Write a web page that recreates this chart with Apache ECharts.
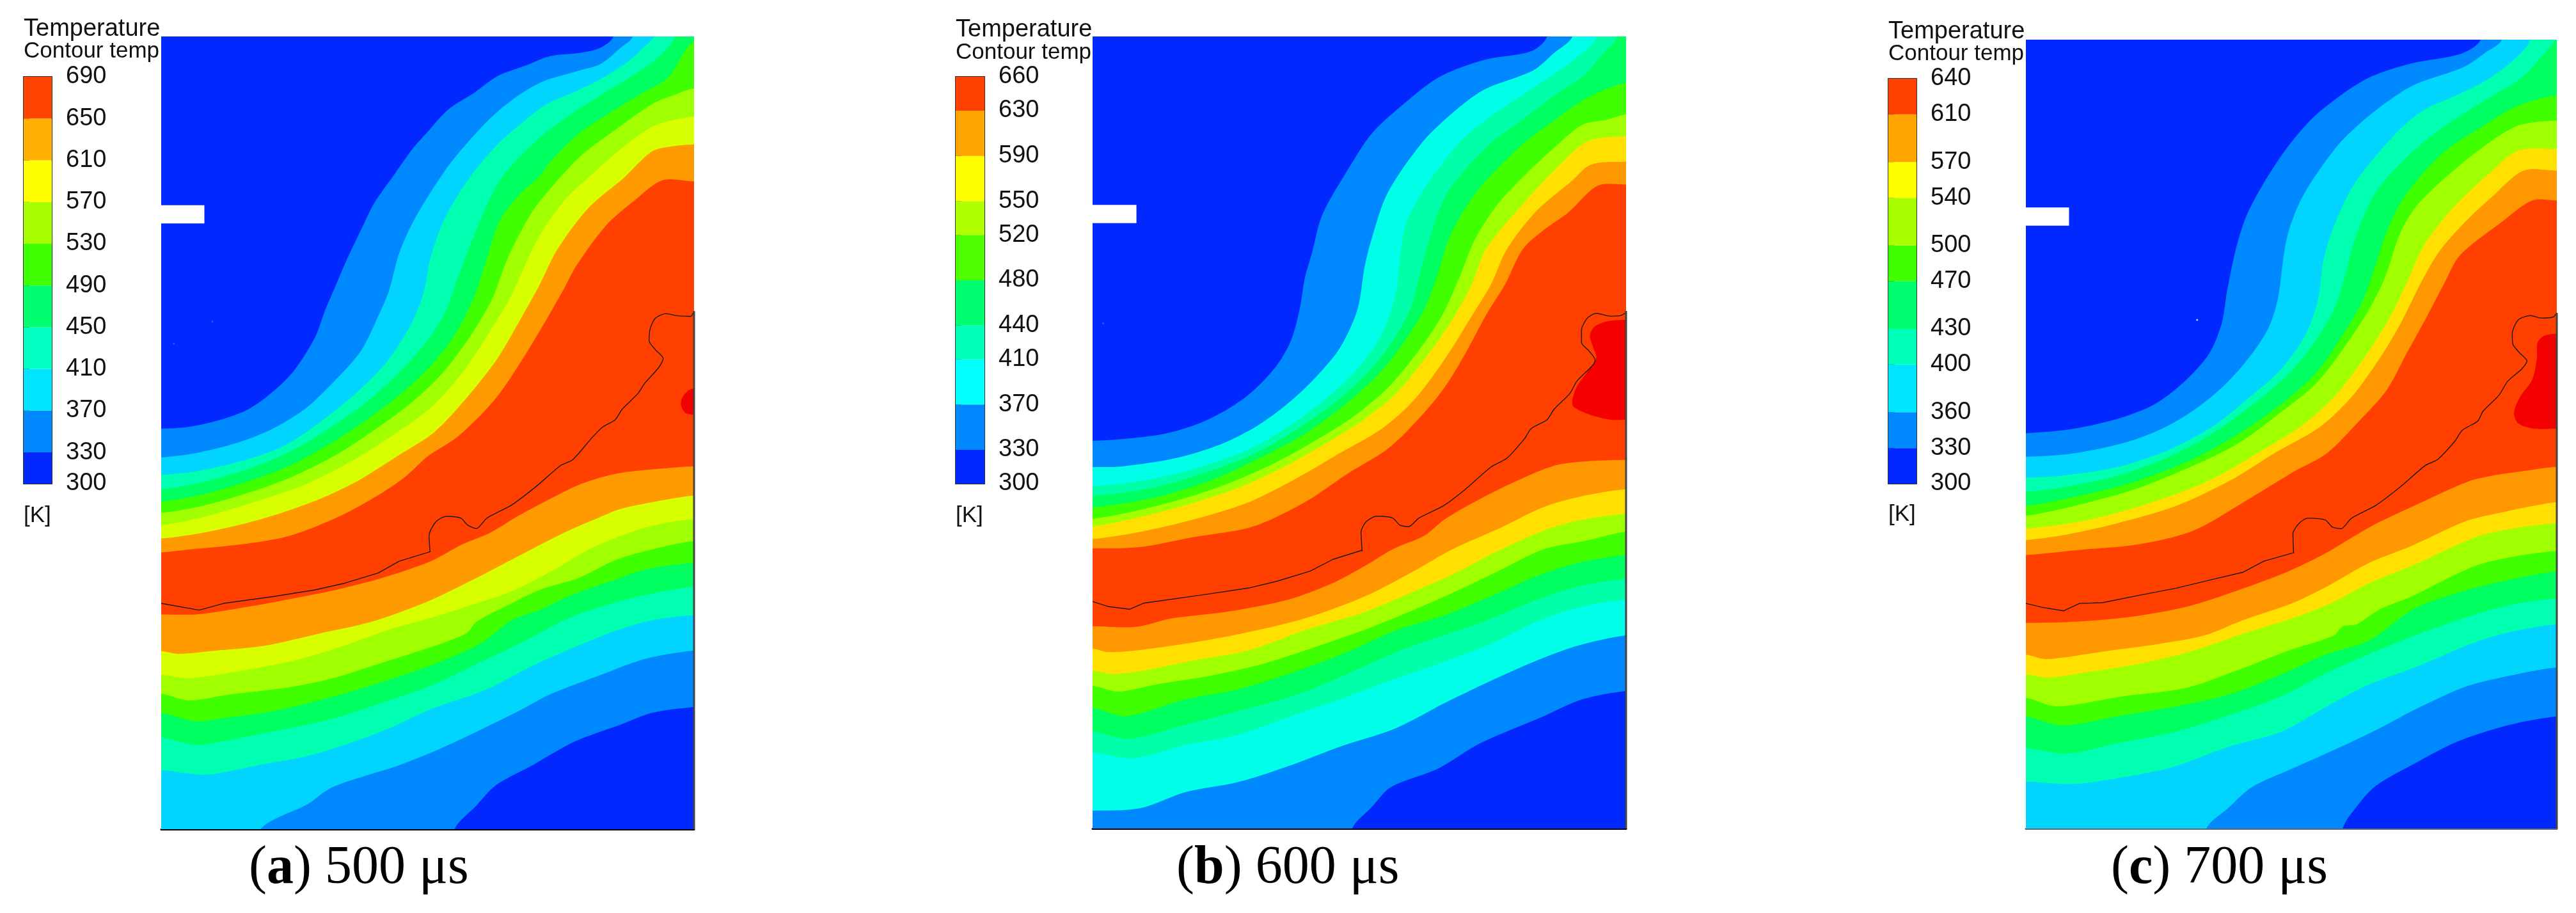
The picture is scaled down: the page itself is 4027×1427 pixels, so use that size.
<!DOCTYPE html>
<html><head><meta charset="utf-8">
<style>html,body{margin:0;padding:0;background:#fff}#c{width:4027px;height:1427px}</style>
<script src="https://cdn.jsdelivr.net/npm/echarts@6/dist/echarts.min.js"></script>
</head><body><div id="c"></div>
<script>
// Colour-bar tick values [K]
const ticksA=[300,330,370,410,450,490,530,570,610,650,690];
const ticksB=[300,330,370,410,440,480,520,550,590,630,660];
const ticksC=[300,330,360,400,430,470,500,540,570,610,640];
const barColorsA=['#0028ff','#0088ff','#00e5ff','#00ffc0','#00ff70','#40ff00','#a8ff00','#ffff00','#ffb000','#ff4500'];
const barColorsB=['#0028ff','#0088ff','#00ffff','#00ffb8','#00ff70','#50ff00','#b0ff00','#ffff00','#ffa500','#ff4000'];
const barColorsC=['#0028ff','#0088ff','#00e5ff','#00ffb8','#00ff70','#40ff00','#a8ff00','#ffff00','#ffa500','#ff4000'];
// Contour fill colours, from the hot band outward
const bandsA=['#ff9a00','#d8ff00','#a0ff00','#40ff00','#00ff60','#00ffb0','#00d4ff','#0088ff','#0028ff'];
const bandsB=['#ff9800','#ffe000','#a0ff00','#40ff00','#00ff60','#00ffa8','#00ffe8','#0088ff','#0028ff'];
const bandsC=['#ff9800','#ffe000','#a0ff00','#40ff00','#00ff60','#00ffb0','#00d4ff','#0088ff','#0028ff'];

// Panel a contours: upper family (coldest first), lower family (hottest first)
const upperA=[
[[1310,12],[1272,45],[1220,58],[1130,68],[1060,95],[980,125],[910,175],[840,220],[780,285],[740,330],[690,400],[630,485],[600,545],[550,650],[520,720],[490,790],[460,870],[400,965],[340,1025],[270,1075],[190,1105],[100,1125],[22,1130]],
[[1365,12],[1330,45],[1275,90],[1210,110],[1110,140],[1040,180],[965,240],[890,320],[830,395],[745,530],[700,630],[670,740],[640,810],[590,910],[510,1000],[430,1075],[340,1130],[240,1170],[120,1200],[22,1212]],
[[1425,12],[1400,40],[1350,85],[1280,130],[1210,165],[1120,205],[1060,250],[985,315],[900,415],[830,530],[790,640],[770,740],[735,830],[660,945],[570,1035],[470,1115],[370,1180],[260,1220],[130,1250],[22,1262]],
[[1485,12],[1440,70],[1370,120],[1290,170],[1180,240],[1090,310],[985,425],[905,600],[860,720],[830,800],[780,880],[700,970],[600,1060],[500,1130],[390,1195],[270,1245],[130,1285],[22,1303]],
[[1540,25],[1465,130],[1390,175],[1300,230],[1210,290],[1130,370],[1100,410],[1045,460],[985,540],[945,660],[915,750],[860,860],[790,950],[700,1035],[600,1110],[500,1175],[390,1235],[270,1280],[130,1320],[22,1338]],
[[1540,160],[1480,180],[1420,205],[1320,275],[1220,350],[1140,435],[1080,510],[1020,620],[995,680],[965,760],[900,870],[820,975],[730,1060],[620,1140],[520,1205],[400,1265],[280,1310],[140,1350],[22,1370]],
[[1540,240],[1430,265],[1360,310],[1260,395],[1170,480],[1100,580],[1060,660],[1020,750],[960,850],[880,970],[790,1070],[680,1150],[560,1225],[430,1290],[300,1335],[150,1380],[22,1405]],
[[1540,320],[1480,325],[1420,340],[1340,415],[1240,500],[1150,620],[1100,720],[1050,810],[980,930],[890,1045],[800,1140],[700,1205],[580,1280],[450,1340],[300,1390],[150,1425],[22,1443]],
[[1540,425],[1450,422],[1370,480],[1290,550],[1205,665],[1170,730],[1110,835],[1040,950],[970,1050],[870,1150],[780,1210],[720,1265],[640,1320],[530,1380],[390,1435],[250,1460],[100,1475],[22,1483]]
];
const lowerA=[
[[1540,243],[1450,250],[1320,265],[1220,295],[1130,340],[1040,390],[960,440],[880,475],[790,525],[650,575],[520,610],[400,635],[270,660],[130,682],[22,683]],
[[1540,330],[1420,350],[1330,370],[1270,395],[1170,440],[1030,515],[900,585],[780,645],[620,705],[470,740],[320,775],[180,790],[70,800],[22,792]],
[[1540,400],[1420,420],[1330,450],[1240,490],[1150,545],[1030,610],[920,650],[800,690],[680,725],[530,780],[400,820],[250,850],[100,872],[22,862]],
[[1540,465],[1420,490],[1320,520],[1210,575],[1100,610],[1020,650],[920,705],[890,740],[760,790],[640,830],[500,875],[380,900],[220,920],[100,938],[22,918]],
[[1540,530],[1400,550],[1300,585],[1180,630],[1100,670],[1020,700],[930,770],[800,830],[660,880],[500,930],[340,970],[200,990],[120,1000],[22,975]],
[[1540,600],[1400,625],[1290,655],[1180,695],[1060,760],[940,820],[800,890],[650,945],[500,995],[340,1030],[200,1058],[120,1070],[22,1048]],
[[1540,685],[1420,700],[1320,730],[1200,780],[1080,835],[950,905],[800,960],[650,1030],[450,1100],[300,1130],[150,1158],[22,1145]],
[[1540,790],[1400,815],[1280,860],[1130,920],[1030,975],[830,1075],[700,1130],[510,1195],[440,1245],[305,1320]],
[[1540,958],[1420,975],[1330,1010],[1200,1060],[1080,1130],[975,1190],[920,1250],[858,1320]]
];
const hotA=[[1540,1015],[1520,1025],[1505,1045],[1503,1065],[1515,1085],[1540,1090]];
const wallUpperA=[[1540,795],[1530,810],[1490,808],[1460,802],[1430,815],[1415,845],[1412,880],[1430,905],[1452,930],[1440,955],[1400,1000],[1380,1030],[1335,1075],[1315,1105],[1280,1125],[1250,1155],[1195,1218],[1160,1235],[1090,1295],[1020,1348],[950,1385],[920,1415],[895,1405],[875,1385],[835,1380],[805,1395],[785,1435],[788,1482]];
const wallLowerA=[[788,497],[700,525],[640,560],[545,590],[460,610],[340,630],[200,650],[130,670],[22,650]];
const notchA=[[10,493],[145,493],[145,545],[10,545]];

// Panel b contours
const upperB=[
[[1310,13],[1265,55],[1130,80],[1000,130],[890,215],[810,290],[750,380],[670,520],[640,630],[620,700],[605,790],[580,880],[540,950],[470,1025],[400,1075],[320,1115],[220,1145],[100,1160],[15,1165]],
[[1382,13],[1330,60],[1270,110],[1130,165],[1030,240],[950,320],[855,460],[810,590],[790,670],[770,790],[720,900],[650,985],[570,1060],[480,1125],[380,1175],[250,1215],[100,1238],[15,1240]],
[[1452,13],[1410,60],[1330,120],[1240,180],[1150,240],[1070,305],[975,425],[910,540],[890,650],[880,740],[840,860],[770,960],[680,1045],[580,1120],[470,1185],[340,1235],[180,1275],[15,1295]],
[[1510,13],[1470,60],[1420,120],[1340,175],[1240,250],[1140,325],[1025,460],[975,590],[945,700],[920,790],[870,880],[800,970],[700,1060],[600,1130],[480,1200],[340,1255],[180,1300],[15,1322]],
[[1535,145],[1430,185],[1340,245],[1240,320],[1130,430],[1075,505],[1030,590],[995,700],[960,790],[905,880],[830,975],[730,1065],[620,1145],[500,1210],[360,1275],[200,1325],[15,1355]],
[[1535,235],[1480,250],[1410,265],[1330,330],[1260,395],[1170,490],[1105,590],[1060,700],[1015,800],[950,900],[860,1010],[760,1095],[640,1170],[520,1235],[380,1295],[200,1350],[15,1388]],
[[1535,297],[1425,312],[1340,385],[1250,480],[1135,620],[1095,720],[1040,820],[970,920],[880,1030],[780,1110],[650,1190],[530,1255],[400,1310],[220,1365],[15,1410]],
[[1535,370],[1435,378],[1380,425],[1280,510],[1195,620],[1150,720],[1095,810],[1020,930],[930,1050],[840,1130],[720,1200],[600,1270],[460,1340],[300,1390],[150,1425],[15,1445]],
[[1535,435],[1455,438],[1370,515],[1300,565],[1240,620],[1190,720],[1140,800],[1075,920],[1020,1010],[960,1085],[860,1185],[740,1260],[620,1340],[470,1410],[300,1440],[150,1468],[15,1472]]
];
const lowerB=[
[[1535,225],[1440,228],[1340,240],[1250,275],[1130,335],[1020,400],[960,450],[870,490],[790,540],[700,590],[570,640],[400,675],[240,695],[140,720],[15,718]],
[[1535,312],[1400,335],[1300,365],[1180,425],[1040,490],[930,555],[790,630],[620,695],[440,740],[280,770],[140,790],[60,795],[15,785]],
[[1535,385],[1400,405],[1300,435],[1160,500],[1050,560],[920,620],[780,680],[620,730],[460,790],[300,820],[160,850],[70,860],[15,850]],
[[1535,438],[1420,465],[1300,490],[1170,555],[1050,615],[930,670],[800,725],[650,780],[500,830],[350,865],[200,890],[90,912],[15,895]],
[[1535,507],[1400,530],[1280,570],[1160,625],[1020,685],[880,730],[740,795],[600,850],[430,905],[280,935],[110,985],[15,960]],
[[1535,578],[1400,600],[1280,640],[1140,700],[1000,750],[880,795],[740,860],[600,920],[430,970],[280,1010],[120,1052],[15,1030]],
[[1535,640],[1410,660],[1290,700],[1150,770],[1000,830],[860,880],[720,935],[580,985],[430,1040],[280,1070],[130,1110],[15,1092]],
[[1535,745],[1400,775],[1280,820],[1150,880],[1020,945],[880,1020],[720,1075],[580,1130],[430,1180],[280,1210],[150,1258],[15,1265]],
[[1535,910],[1410,935],[1300,985],[1120,1065],[1000,1140],[865,1195],[810,1255],[755,1318]]
];
const hotB=[[1535,820],[1480,825],[1445,840],[1432,865],[1440,895],[1450,930],[1420,975],[1395,1010],[1382,1050],[1385,1068],[1430,1090],[1490,1105],[1535,1105]];
const wallUpperB=[[1535,800],[1520,808],[1490,810],[1450,802],[1425,815],[1408,850],[1408,885],[1430,910],[1447,935],[1440,950],[1395,995],[1375,1030],[1330,1075],[1310,1105],[1265,1130],[1245,1160],[1195,1215],[1150,1240],[1075,1305],[1015,1350],[945,1385],[915,1410],[890,1405],[870,1385],[825,1380],[795,1395],[780,1425],[783,1480]];
const wallLowerB=[[783,493],[700,520],[635,555],[540,585],[460,605],[330,625],[160,650],[120,668],[60,660],[15,645]];
const notchB=[[3,493],[140,493],[140,545],[3,545]];

// Panel c contours
const upperC=[
[[1318,22],[1262,62],[1120,90],[990,135],[850,235],[770,325],[700,430],[650,525],[620,620],[595,740],[580,830],[545,915],[480,990],[390,1060],[290,1100],[160,1130],[22,1143]],
[[1378,22],[1330,60],[1270,100],[1130,150],[1050,200],[975,260],[905,330],[810,470],[765,590],[740,760],[710,850],[640,950],[550,1040],[440,1115],[320,1165],[160,1200],[22,1210]],
[[1460,22],[1400,90],[1330,140],[1250,180],[1160,220],[1080,285],[960,430],[905,540],[870,650],[855,760],[820,860],[750,960],[660,1040],[560,1120],[430,1190],[280,1240],[140,1262],[22,1270]],
[[1535,22],[1510,50],[1435,130],[1330,195],[1220,265],[1120,345],[1020,455],[960,590],[930,700],[900,790],[840,890],[770,975],[670,1060],[560,1140],[430,1210],[280,1265],[140,1295],[22,1310]],
[[1535,180],[1420,212],[1330,265],[1210,345],[1100,470],[1050,570],[1020,660],[980,770],[920,870],[850,970],[750,1060],[620,1150],[480,1225],[320,1285],[180,1320],[22,1350]],
[[1535,252],[1430,265],[1350,310],[1240,395],[1140,490],[1090,570],[1045,700],[1000,790],[935,890],[850,1000],[740,1090],[630,1170],[500,1235],[340,1300],[180,1345],[22,1378]],
[[1535,333],[1425,338],[1340,405],[1240,500],[1155,610],[1105,720],[1055,820],[985,930],[900,1040],[810,1120],[690,1195],[540,1280],[380,1340],[200,1390],[22,1415]],
[[1535,395],[1440,395],[1350,470],[1270,545],[1200,625],[1150,710],[1090,830],[1030,930],[950,1040],[860,1125],[730,1200],[600,1280],[450,1350],[280,1400],[120,1435],[22,1447]],
[[1535,480],[1465,480],[1380,540],[1260,635],[1215,715],[1165,810],[1110,910],[1050,1020],[970,1110],[880,1200],[790,1250],[650,1335],[500,1420],[340,1460],[180,1475],[22,1490]]
];
const lowerC=[
[[1535,245],[1440,258],[1360,270],[1280,290],[1130,360],[1000,425],[870,505],[770,555],[630,610],[480,660],[320,690],[150,705],[22,708]],
[[1535,350],[1380,380],[1280,405],[1120,480],[1000,530],[880,600],[780,650],[640,700],[530,745],[400,770],[260,790],[80,815],[22,802]],
[[1535,412],[1400,430],[1300,455],[1130,535],[1000,590],[900,645],[780,695],[640,740],[500,790],[340,830],[190,855],[85,870],[22,860]],
[[1535,495],[1420,510],[1300,540],[1120,630],[1030,668],[965,712],[925,718],[900,745],[770,790],[620,850],[480,900],[300,925],[110,955],[22,930]],
[[1535,555],[1400,580],[1280,610],[1130,665],[1000,760],[880,800],[750,860],[600,920],[450,955],[280,985],[125,1012],[22,985]],
[[1535,635],[1400,655],[1280,690],[1130,745],[1000,800],[880,855],[750,925],[590,985],[450,1030],[280,1065],[140,1095],[22,1078]],
[[1535,712],[1400,735],[1290,770],[1130,840],[1000,890],[880,955],[750,1030],[600,1075],[440,1135],[300,1165],[160,1185],[22,1178]],
[[1535,840],[1420,860],[1280,895],[1130,965],[1030,1020],[920,1075],[780,1140],[665,1195],[600,1255],[537,1317]],
[[1535,985],[1400,1010],[1250,1060],[1120,1130],[1020,1190],[970,1245],[925,1317]]
];
const hotC=[[1535,860],[1500,865],[1480,885],[1478,930],[1465,990],[1430,1040],[1413,1085],[1425,1115],[1470,1130],[1535,1130]];
const wallUpperC=[[1535,800],[1525,812],[1490,815],[1460,808],[1425,820],[1408,860],[1410,890],[1430,915],[1450,937],[1435,960],[1395,995],[1370,1035],[1325,1080],[1310,1108],[1265,1135],[1245,1165],[1195,1218],[1160,1235],[1090,1295],[1020,1348],[950,1385],[920,1415],[895,1410],[875,1390],[825,1385],[800,1400],[783,1430],[785,1485]];
const wallLowerC=[[785,500],[700,525],[640,558],[550,580],[450,605],[350,625],[240,648],[175,650],[130,672],[70,662],[22,650]];
const notchC=[[10,500],[145,500],[145,552],[10,552]];

const panels=[
 {upper:upperA,lower:lowerA,hot:hotA,wu:wallUpperA,wl:wallLowerA,notch:notchA,bands:bandsA,ticks:ticksA,bar:barColorsA,
  ext:{l:22,r:1540,t:12,b:2272,lt:-1032,lb:1320},grid:{left:252,width:833,top:57,height:1239},leg:{left:37,width:44,top:120,height:636},
  edge:795,axisColor:'#000',specks:[[168,825],[58,888]],speckColor:'#3f5cff',cap:{x:389,a:'(',b:'a',rest:') 500 μs'},txt:{x:37,y1:46,y2:80,y3:806}},
 {upper:upperB,lower:lowerB,hot:hotB,wu:wallUpperB,wl:wallLowerB,notch:notchB,bands:bandsB,ticks:ticksB,bar:barColorsB,
  ext:{l:15,r:1535,t:13,b:2270,lt:-1030,lb:1318},grid:{left:1708,width:834,top:57,height:1238},leg:{left:1494,width:45,top:120,height:636},
  edge:795,axisColor:'#000',specks:[[45,830]],speckColor:'#3f5cff',cap:{x:1839,a:'(',b:'b',rest:') 600 μs'},txt:{x:1494,y1:47,y2:82,y3:806}},
 {upper:upperC,lower:lowerC,hot:hotC,wu:wallUpperC,wl:wallLowerC,notch:notchC,bands:bandsC,ticks:ticksC,bar:barColorsC,
  ext:{l:22,r:1535,t:22,b:2269,lt:-1020,lb:1317},grid:{left:3167,width:830,top:62,height:1233},leg:{left:2952,width:44,top:123,height:633},
  edge:800,axisColor:'#666',specks:[[510,820]],speckColor:'#ffffff',cap:{x:3300,a:'(',b:'c',rest:') 700 μs'},txt:{x:2952,y1:50,y2:84,y3:804}}
];

function outward(p,e,t,b){
  if(p[0]>=e.r) return [p[0]+100,p[1]];
  if(p[0]<=e.l) return [p[0]-100,p[1]];
  if(p[1]<=t) return [p[0],p[1]-100];
  if(p[1]>=b) return [p[0],p[1]+100];
  return p;
}
function poly(points,color,xi,yi,smooth){
  return {type:'custom',coordinateSystem:'cartesian2d',xAxisIndex:xi,yAxisIndex:yi,clip:true,silent:true,animation:false,
    data:points,encode:{x:0,y:1},
    renderItem(params,api){
      if(params.dataIndex!==0) return null;
      return {type:'polygon',shape:{points:points.map(p=>api.coord(p)),smooth:smooth},style:{fill:color}};
    }};
}
function path(points,color,width,xi,yi,smooth){
  return {type:'line',xAxisIndex:xi,yAxisIndex:yi,data:points,showSymbol:false,symbol:'none',silent:true,animation:false,clip:false,smooth:smooth||false,
    lineStyle:{color:color,width:width}};
}

const grids=[],xAxes=[],yAxes=[],series=[],texts=[];
const FONT='"Liberation Sans", Arial, sans-serif';
panels.forEach((P,i)=>{
  const e=P.ext, xi=i*2, lx=i*2+1, yU=i*3, yL=i*3+1, yB=i*3+2;
  const gi=grids.length;
  grids.push({left:P.grid.left,top:P.grid.top,width:P.grid.width,height:P.grid.height,show:true,backgroundColor:'#ff4000',borderWidth:0});
  grids.push({left:P.leg.left,top:P.leg.top,width:P.leg.width,height:P.leg.height,show:true,borderColor:'#333',borderWidth:2,backgroundColor:'transparent'});
  xAxes.push({type:'value',gridIndex:gi,min:e.l,max:e.r,axisLabel:{show:false},axisTick:{show:false},splitLine:{show:false},
    axisLine:{show:true,onZero:false,lineStyle:{color:P.axisColor,width:3}}});
  xAxes.push({type:'value',gridIndex:gi+1,min:0,max:1,show:false,splitLine:{show:false}});
  yAxes.push({type:'value',gridIndex:gi,min:e.t,max:e.b,inverse:true,show:false,splitLine:{show:false}});
  yAxes.push({type:'value',gridIndex:gi,min:e.lt,max:e.lb,inverse:true,show:false,splitLine:{show:false}});
  yAxes.push({type:'value',gridIndex:gi+1,position:'right',min:P.ticks[0],max:P.ticks[P.ticks.length-1],
    splitLine:{show:false},axisLine:{show:true,lineStyle:{color:'#333',width:2}},
    axisTick:{show:true,length:9,customValues:P.ticks,lineStyle:{color:'#333',width:2}},
    axisLabel:{show:true,customValues:P.ticks,margin:22,fontFamily:FONT,fontSize:38,color:'#111',formatter:v=>String(v)}});
  // upper contour family, hottest band painted first
  for(let k=P.upper.length-1;k>=0;k--){
    const c=P.upper[k];
    const pts=[outward(c[0],e,e.t,e.b),...c,outward(c[c.length-1],e,e.t,e.b),[e.l-100,e.t-100],[e.r+100,e.t-100]];
    series.push(poly(pts,P.bands[P.upper.length-1-k],xi,yU,0.3));
  }
  // lower contour family
  P.lower.forEach((c,k)=>{
    const pts=[outward(c[0],e,e.lt,e.lb),...c,outward(c[c.length-1],e,e.lt,e.lb),[e.l-100,e.lb+100],[e.r+100,e.lb+100]];
    series.push(poly(pts,P.bands[k],xi,yL,0.3));
  });
  // hottest spot
  const h=P.hot;
  series.push(poly([outward(h[0],e,e.t,e.b),...h,outward(h[h.length-1],e,e.t,e.b)],'#f50000',xi,yU,0.3));
  // inlet notch
  series.push(poly(P.notch,'#ffffff',xi,yU,0));
  // wall outline and right edge
  series.push(path(P.wu,'#1a1a1a',1.4,xi,yU,0.25));
  series.push(path(P.wl,'#1a1a1a',1.4,xi,yL,false));
  series.push(path([[e.r,P.edge],[e.r,e.b]],'#444',3,xi,yU));
  series.push({type:'scatter',xAxisIndex:xi,yAxisIndex:yU,data:P.specks,symbolSize:3,silent:true,animation:false,itemStyle:{color:P.speckColor}});
  // colour bar
  const segs=P.bar.map((col,k)=>[P.ticks[k],P.ticks[k+1],col]);
  series.push({type:'custom',coordinateSystem:'cartesian2d',xAxisIndex:lx,yAxisIndex:yB,silent:true,animation:false,z:1,
    data:segs.map(s=>[s[0],s[1]]),encode:{y:[0,1]},
    renderItem(params,api){
      const a=api.coord([0,api.value(0)]),b=api.coord([1,api.value(1)]);
      return {type:'rect',shape:{x:a[0],y:b[1],width:b[0]-a[0],height:a[1]-b[1]},style:{fill:segs[params.dataIndex][2]}};
    }});
  // text
  const T=P.txt;
  texts.push({type:'text',silent:true,style:{x:T.x,y:T.y1,text:'Temperature',font:'38px '+FONT,fill:'#111',textVerticalAlign:'middle'}});
  texts.push({type:'text',silent:true,style:{x:T.x,y:T.y2,text:'Contour temp',font:'35px '+FONT,fill:'#111',textVerticalAlign:'middle'}});
  texts.push({type:'text',silent:true,style:{x:T.x,y:T.y3,text:'[K]',font:'35px '+FONT,fill:'#111',textVerticalAlign:'middle'}});
  const C=P.cap;
  texts.push({type:'text',silent:true,style:{x:C.x,y:1358,textVerticalAlign:'middle',
    text:'{n|'+C.a+'}{b|'+C.b+'}{n|'+C.rest+'}',
    rich:{n:{fontFamily:'"Liberation Serif",serif',fontSize:84,fill:'#000',color:'#000'},
          b:{fontFamily:'"Liberation Serif",serif',fontSize:84,fontWeight:'bold',fill:'#000',color:'#000'}}}});
});

const chart=echarts.init(document.getElementById('c'),null,{renderer:'canvas',width:4027,height:1427});
chart.setOption({animation:false,backgroundColor:'#ffffff',grid:grids,xAxis:xAxes,yAxis:yAxes,series:series,graphic:texts,tooltip:{show:false}});
</script></body></html>
